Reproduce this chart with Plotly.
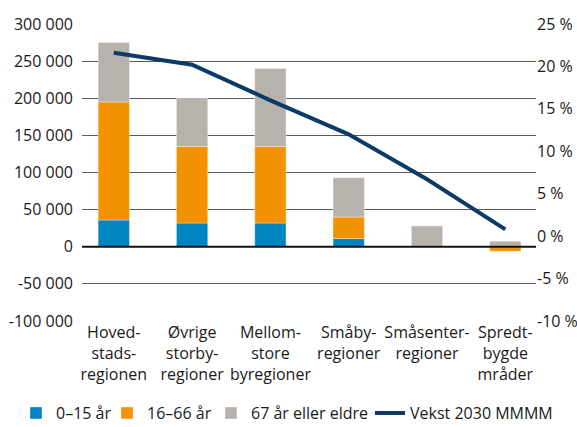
import plotly.graph_objects as go

categories = [
    "Hoved-<br>stads-<br>regionen",
    "Øvrige<br>storby-<br>regioner",
    "Mellom-<br>store<br>byregioner",
    "Småby-<br>regioner",
    "Småsenter-<br>regioner",
    "Spredt-<br>bygde<br>mråder",
]
age_0_15 = [36000, 32000, 32000, 11000, 0, 0]
age_16_66 = [159000, 103000, 103000, 29000, 1000, -6000]
age_67_plus = [80000, 65000, 105000, 53000, 27000, 7500]
growth_2030 = [21.6, 20.2, 16.0, 12.0, 6.7, 0.8]

left_ticks = [-100000, -50000, 0, 50000, 100000, 150000, 200000, 250000, 300000]
left_ticktext = ["-100 000", "-50 000", "0", "50 000", "100 000", "150 000", "200 000", "250 000", "300 000"]
right_ticks = [-10, -5, 0, 5, 10, 15, 20, 25]
right_ticktext = ["-10 %", "-5 %", "0 %", "5 %", "10 %", "15 %", "20 %", "25 %"]

FONT = "Open Sans"
TXT = "#1a1a1a"
edge = dict(color="rgba(255,255,255,0.45)", width=0.8)

fig = go.Figure()
fig.add_trace(go.Bar(x=categories, y=age_0_15, name="0–15 år", legend="legend",
                     marker=dict(color="#0084c2", line=edge), width=0.4))
fig.add_trace(go.Bar(x=categories, y=age_16_66, name="16–66 år", legend="legend2",
                     marker=dict(color="#f39200", line=edge), width=0.4))
fig.add_trace(go.Bar(x=categories, y=age_67_plus, name="67 år eller eldre", legend="legend3",
                     marker=dict(color="#b7b2ab", line=edge), width=0.4))
fig.add_trace(go.Scatter(x=categories, y=growth_2030, name="Vekst 2030 MMMM",
                         mode="lines", yaxis="y2", legend="legend4",
                         line=dict(color="#0b3a66", width=4)))

def leg(x):
    return dict(orientation="h", xref="paper", yref="paper",
                x=x, xanchor="left", y=-0.31, yanchor="middle",
                font=dict(size=16, color=TXT), itemwidth=30,
                bgcolor="rgba(0,0,0,0)")

fig.update_layout(
    width=577, height=427,
    margin=dict(l=82, r=41, t=24, b=106, autoexpand=False),
    barmode="relative",
    paper_bgcolor="white", plot_bgcolor="white",
    font=dict(family=FONT, size=16, color=TXT),
    showlegend=True,
    legend=leg(-0.1454),
    legend2=leg(0.0551),
    legend3=leg(0.2841),
    legend4=leg(0.6344),
    xaxis=dict(type="category", range=[-0.406, 5.392], showgrid=False,
               zeroline=False, showline=False, ticks="", tickangle=0,
               automargin=False, tickfont=dict(size=16, color=TXT)),
    yaxis=dict(range=[-100000, 300000], tickvals=left_ticks, ticktext=left_ticktext,
               showgrid=True, gridcolor="#5a5a5a", gridwidth=1,
               zeroline=False, showline=False, ticks="", automargin=False,
               ticklabelstandoff=8, tickfont=dict(size=16, color=TXT)),
    yaxis2=dict(range=[-10, 25], tickvals=right_ticks, ticktext=right_ticktext,
                overlaying="y", side="right", showgrid=False, zeroline=False,
                showline=False, ticks="", ticklabelstandoff=0, automargin=False,
                tickfont=dict(size=16, color=TXT)),
    shapes=[dict(type="line", xref="paper", yref="y", x0=0, x1=1, y0=0, y1=0,
                 line=dict(color="#111111", width=2), layer="above")],
)

fig.write_html("out.html", config={"displayModeBar": False},
               post_script="document.body.style.margin='0px';")
